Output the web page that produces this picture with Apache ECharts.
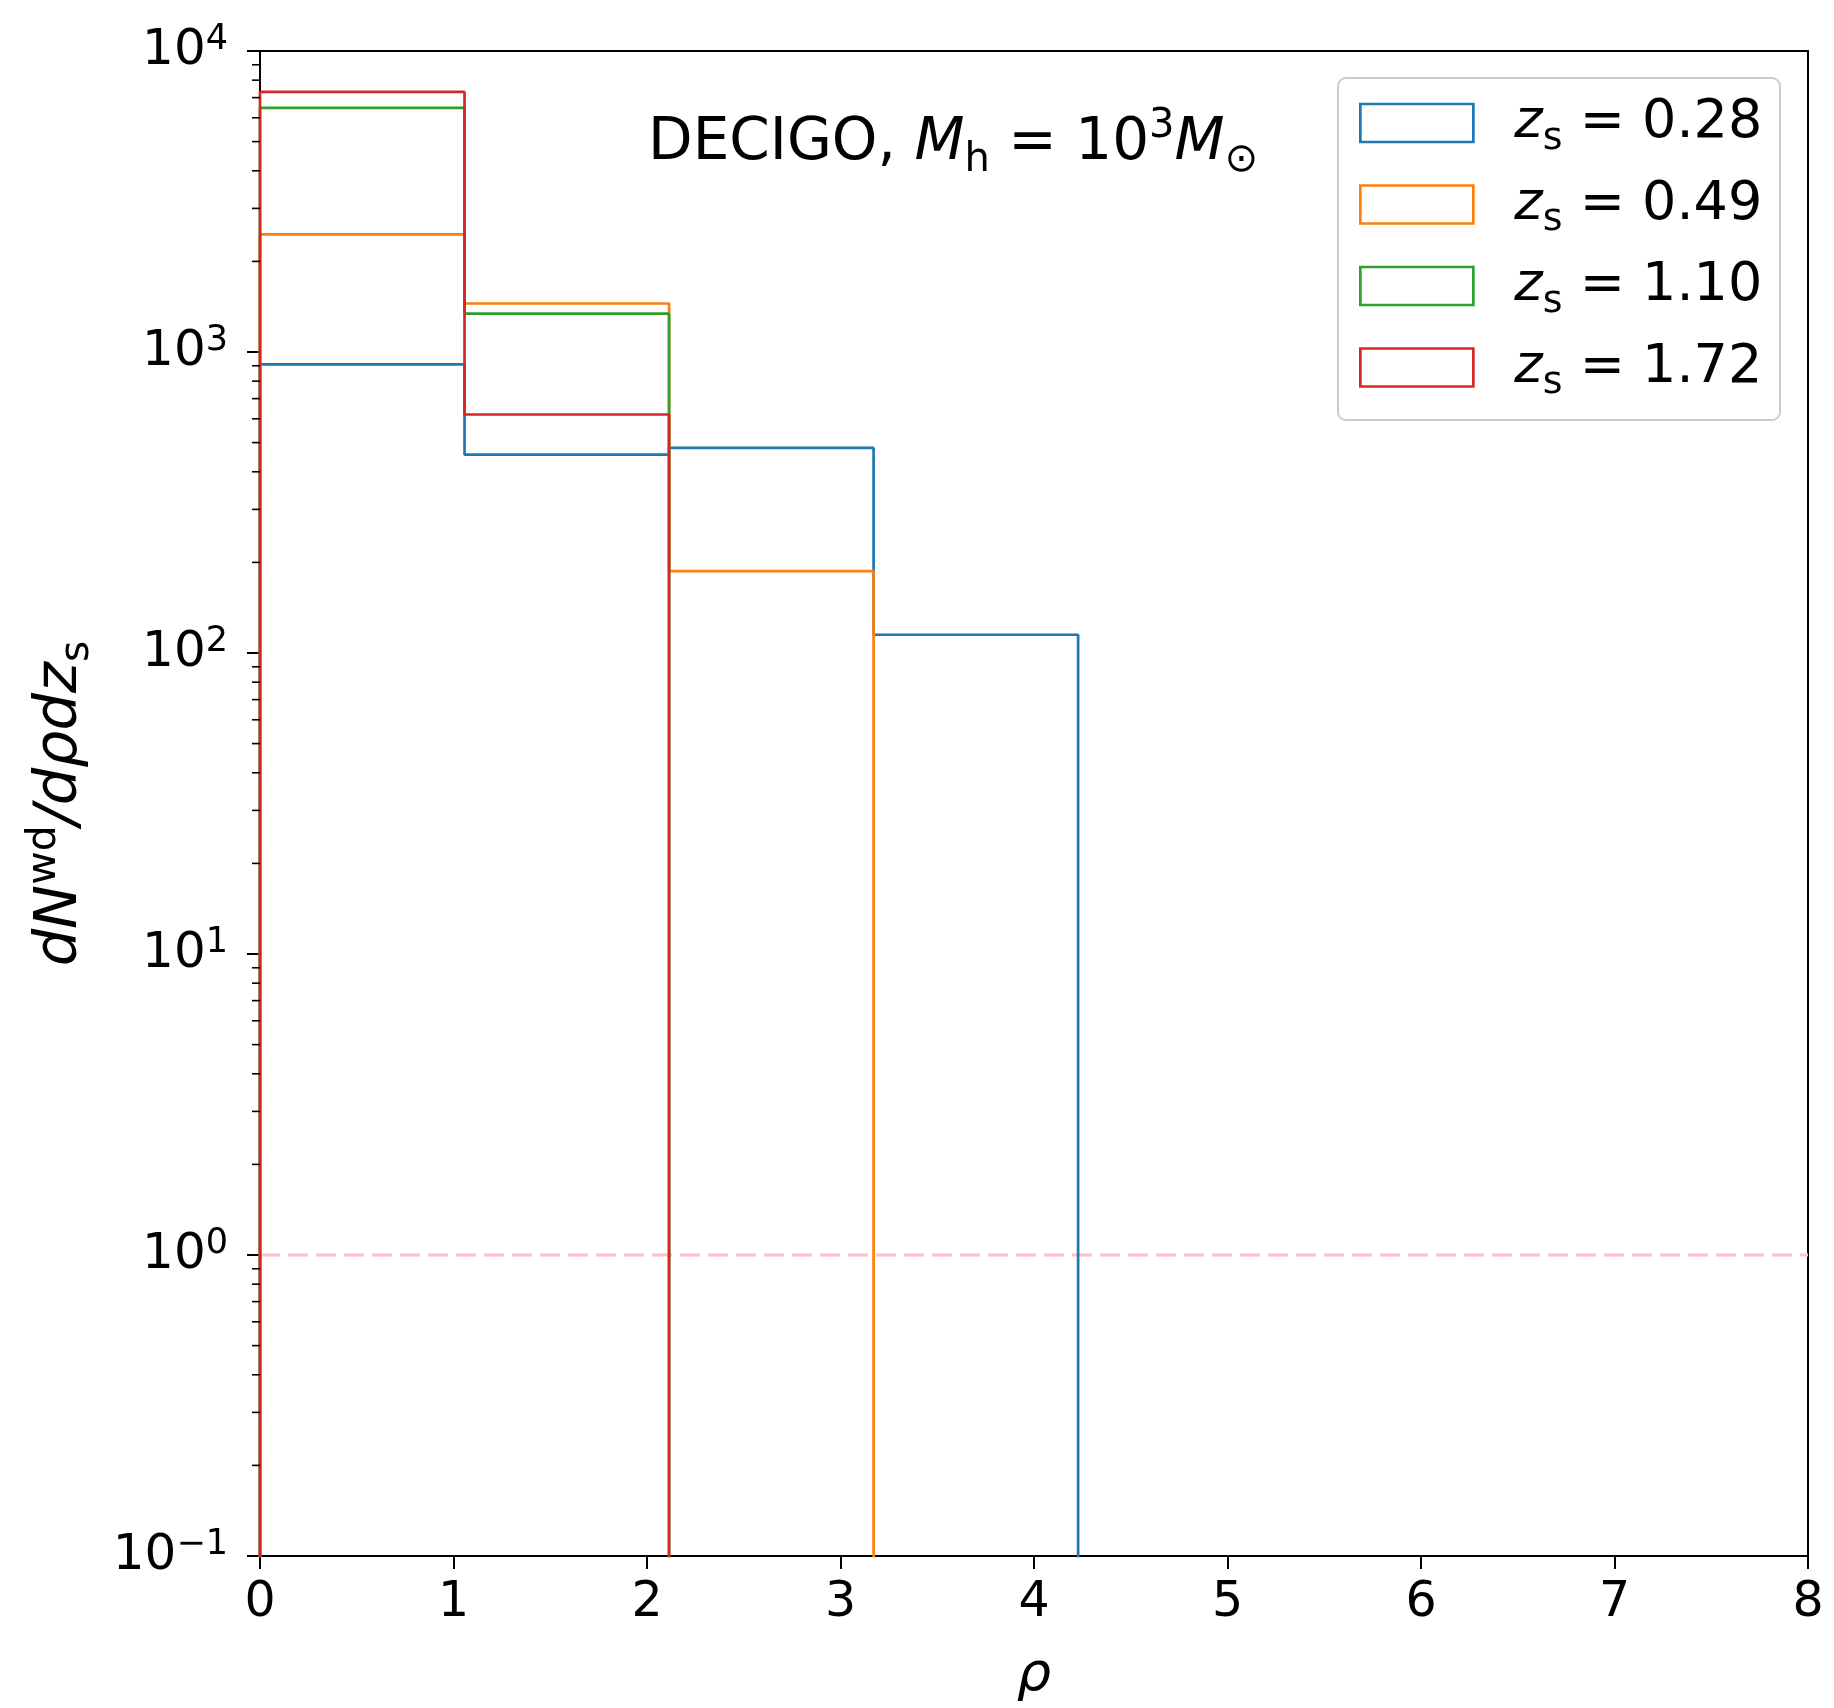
<!DOCTYPE html>
<html><head><meta charset="utf-8">
<script src="https://cdn.jsdelivr.net/npm/echarts@6/dist/echarts.min.js"></script>
<style>html,body{margin:0;padding:0;background:#fff}#c{width:1834px;height:1708px}</style>
</head><body><div id="c"></div>
<script>
// ---- data ----
const binEdges = [0, 1.057, 2.114, 3.171, 4.228];
const redshifts = ['0.28', '0.49', '1.10', '1.72'];
const blueVals = [910, 456, 480, 115];
const orangeVals = [2460, 1449, 187, 0];
const greenVals = [6470, 1342, 0, 0];
const redVals = [7310, 620, 0, 0];
const seriesColors = ['#1f77b4', '#ff7f0e', '#2ca02c', '#d62728'];
const xTicks = [0, 1, 2, 3, 4, 5, 6, 7, 8];
const yDecades = [-1, 0, 1, 2, 3, 4];
const minorMantissas = [2, 3, 4, 5, 6, 7, 8, 9];
const refLineValue = 1;

const FONT = '"DejaVu Sans", sans-serif';
const FLOOR = 1e-3; // empty bins fall off the log axis
const allVals = [blueVals, orangeVals, greenVals, redVals];

function stepPoints(vals) {
  const pts = [[binEdges[0], FLOOR]];
  vals.forEach((v, i) => {
    const y = v > 0 ? v : FLOOR;
    pts.push([binEdges[i], y]);
    pts.push([binEdges[i + 1], y]);
  });
  pts.push([binEdges[vals.length], FLOOR]);
  return pts;
}

const minorTicks = [];
yDecades.slice(0, -1).forEach(k => minorMantissas.forEach(m => minorTicks.push([0, m * Math.pow(10, k)])));

const seriesList = allVals.map((vals, i) => ({
  name: 'zs = ' + redshifts[i],
  type: 'line',
  data: stepPoints(vals),
  showSymbol: false,
  symbol: 'none',
  clip: true,
  z: 3,
  lineStyle: { color: seriesColors[i], width: 2.7 },
  itemStyle: { color: seriesColors[i] },
  emphasis: { disabled: true }
}));

seriesList.push({
  name: 'ref',
  type: 'line',
  data: [[xTicks[0], refLineValue], [xTicks[xTicks.length - 1], refLineValue]],
  showSymbol: false,
  symbol: 'none',
  z: 2,
  lineStyle: { color: '#ffc0cb', width: 3.2, type: [20, 8] },
  emphasis: { disabled: true }
});

seriesList.push({
  name: 'minor',
  type: 'custom',
  data: minorTicks,
  clip: false,
  z: 5,
  silent: true,
  renderItem: function (params, api) {
    const p = api.coord([api.value(0), api.value(1)]);
    return { type: 'line', shape: { x1: p[0] - 8, y1: p[1], x2: p[0], y2: p[1] },
      style: { stroke: '#000', lineWidth: 1.6 } };
  }
});

function richSet(size, subSize) {
  return {
    n: { fontFamily: FONT, fontSize: size, lineHeight: 74, fontWeight: 'normal', color: '#000' },
    i: { fontFamily: FONT, fontSize: size, lineHeight: 74, fontStyle: 'italic', fontWeight: 'normal', color: '#000' },
    sb: { fontFamily: FONT, fontSize: subSize, lineHeight: 46, verticalAlign: 'bottom', fontWeight: 'normal', color: '#000' },
    sp: { fontFamily: FONT, fontSize: subSize, lineHeight: 40, verticalAlign: 'top', fontWeight: 'normal', color: '#000' }
  };
}

const chart = echarts.init(document.getElementById('c'), null, { renderer: 'canvas' });
chart.setOption({
  animation: false,
  backgroundColor: '#fff',
  grid: { left: 260, top: 51, right: 26, bottom: 150, show: true, borderColor: '#000', borderWidth: 2, backgroundColor: 'transparent' },
  title: {
    text: '{n|DECIGO, }{i|M}{sb|h}{n| = 10}{sp|3}{i|M}{sb|⊙}',
    left: 643, top: 102,
    textStyle: { fontWeight: 'normal', rich: richSet(58, 40) }
  },
  graphic: [{
    type: 'rect', z: 10, zlevel: 0,
    shape: { x: 1338, y: 78, width: 442, height: 342, r: 8 },
    style: { fill: 'rgba(255,255,255,0.85)', stroke: '#cccccc', lineWidth: 2 }
  }],
  legend: {
    orient: 'vertical',
    left: 1359, top: 96,
    padding: 0,
    itemGap: 19.5,
    itemWidth: 113, itemHeight: 38,
    icon: 'rect',
    z: 11,
    selectedMode: false,
    data: redshifts.map((r, i) => ({
      name: 'zs = ' + r,
      itemStyle: { color: '#ffffff', borderColor: seriesColors[i], borderWidth: 2.7 }
    })),
    formatter: name => '{i|z}{sb|s}{n| = ' + name.split('= ')[1] + '}',
    textStyle: {
      rich: {
        i: { fontFamily: FONT, fontSize: 54, lineHeight: 70, fontStyle: 'italic', color: '#000', padding: [0, 0, 0, 36] },
        sb: { fontFamily: FONT, fontSize: 38, lineHeight: 44, verticalAlign: 'bottom', color: '#000' },
        n: { fontFamily: FONT, fontSize: 54, lineHeight: 70, color: '#000' }
      }
    }
  },
  xAxis: {
    type: 'value', min: xTicks[0], max: xTicks[xTicks.length - 1], interval: 1,
    name: '{i|ρ}', nameLocation: 'middle', nameGap: 90,
    nameTextStyle: { rich: { i: { fontFamily: FONT, fontSize: 54, lineHeight: 60, fontStyle: 'italic', color: '#000' } } },
    axisLine: { lineStyle: { color: '#000', width: 2 } },
    axisTick: { show: true, inside: false, length: 13, lineStyle: { color: '#000', width: 2 } },
    axisLabel: { margin: 21, fontFamily: FONT, fontSize: 49, lineHeight: 52, color: '#000' },
    splitLine: { show: false }
  },
  yAxis: {
    type: 'log', logBase: 10, min: Math.pow(10, yDecades[0]), max: Math.pow(10, yDecades[yDecades.length - 1]),
    name: '{i|dN}{sp|wd}{i|/dρdz}{sb|s}', nameLocation: 'middle', nameGap: 162, nameRotate: 90,
    nameTextStyle: { rich: richSet(59, 41) },
    axisLine: { lineStyle: { color: '#000', width: 2 } },
    axisTick: { show: true, inside: false, length: 13, lineStyle: { color: '#000', width: 2 } },
    axisLabel: {
      margin: 32,
      formatter: v => { const e = Math.round(Math.log10(v)); return '{n|10}{sp|' + (e < 0 ? '−' + (-e) : e) + '}'; },
      rich: {
        n: { fontFamily: FONT, fontSize: 50, lineHeight: 58, color: '#000' },
        sp: { fontFamily: FONT, fontSize: 35, lineHeight: 28, verticalAlign: 'top', color: '#000' }
      }
    },
    splitLine: { show: false },
    minorTick: { show: false }
  },
  series: seriesList
});
</script></body></html>
